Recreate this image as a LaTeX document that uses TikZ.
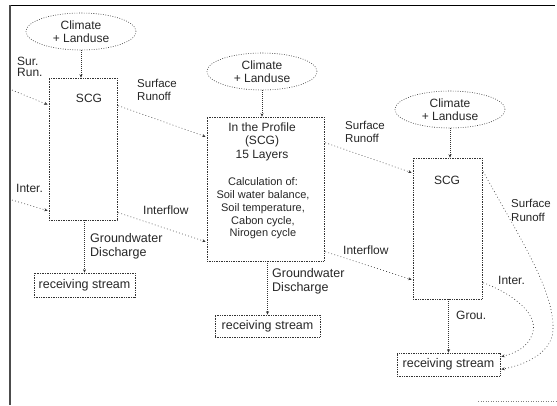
\documentclass[tikz,border=0pt]{standalone}
\usepackage{fontspec}
\setmainfont{Liberation Sans}
\usetikzlibrary{shapes.geometric,arrows.meta,calc}
\begin{document}
\begin{tikzpicture}[x=1pt,y=-1pt,
  every node/.style={text=black!85},
  txt/.style={font=\fontsize{12}{13}\selectfont, inner sep=0pt},
  lbl/.style={txt, anchor=west, align=left},
  cloud/.style={ellipse, draw=black!80, line width=0.6pt, dash pattern=on 0.8pt off 1.6pt,
     minimum width=110pt, minimum height=37pt, inner sep=0pt, align=center,
     font=\fontsize{12}{12.5}\selectfont},
  boxx/.style={rectangle, draw=black!80, line width=0.6pt, dash pattern=on 0.8pt off 0.9pt, inner sep=0pt},
  stream/.style={boxx, font=\fontsize{12.5}{13}\selectfont},
  flow/.style={draw=black!80, line width=0.6pt, dash pattern=on 0.8pt off 2.4pt,
     -{Stealth[length=3.5pt,width=3pt]}},
  vflow/.style={flow, dash pattern=on 0.8pt off 1.2pt}
]
\useasboundingbox (0,0) rectangle (557,405);
% frame
\draw[black, line width=0.9pt] (10,5) -- (555,5);
\draw[black!70, line width=1.3pt] (10,5) -- (10,405);
\draw[black!50, line width=0.6pt, dash pattern=on 1pt off 1.5pt] (478,401) -- (557,401);

% climate ellipses
\node[cloud] (e1) at (81,31.5) {Climate\\+ Landuse};
\node[cloud] (e2) at (262,71.5) {Climate\\+ Landuse};
\node[cloud] (e3) at (450,109.5) {Climate\\+ Landuse};

% boxes
\node[boxx, minimum width=68pt, minimum height=142pt] (b1) at (83,149) {};
\node[boxx, minimum width=117pt, minimum height=144pt] (b2) at (265.5,189) {};
\node[boxx, minimum width=69pt, minimum height=141pt] (b3) at (447.5,228.5) {};
\node[txt] (t1) at (89,98) {SCG};
\node[txt] (t3) at (447,180) {SCG};
\node[txt, align=center, font=\fontsize{12}{13.5}\selectfont] (t2a) at (262,141.5) {In the Profile\\(SCG)\\15 Layers};
\node[txt, align=center, font=\fontsize{11}{12.75}\selectfont] (t2b) at (263,208.5) {Calculation of:\\Soil water balance,\\Soil temperature,\\Cabon cycle,\\Nirogen cycle};

% receiving streams
\node[stream, minimum width=101pt, minimum height=24pt] (r1) at (84.5,285) {receiving stream};
\node[stream, minimum width=105pt, minimum height=22pt] (r2) at (267.5,326) {receiving stream};
\node[stream, minimum width=103pt, minimum height=23pt] (r3) at (448.5,364.5) {receiving stream};

% labels
\node[lbl, font=\fontsize{12}{11}\selectfont] (l1) at (17,67) {Sur.\\Run.};
\node[lbl] (l2) at (16,188) {Inter.};
\node[lbl, font=\fontsize{11.5}{13.5}\selectfont] (l3) at (137,90) {Surface\\Runoff};
\node[lbl] (l4) at (143,210) {Interflow};
\node[lbl, font=\fontsize{12.5}{14.5}\selectfont] (l5) at (90,246.5) {Groundwater\\Discharge};
\node[lbl, font=\fontsize{11.5}{12.5}\selectfont] (l6) at (345,132) {Surface\\Runoff};
\node[lbl] (l7) at (343,250) {Interflow};
\node[lbl, font=\fontsize{12.5}{13.5}\selectfont] (l8) at (272,281.5) {Groundwater\\Discharge};
\node[lbl, font=\fontsize{11.5}{14}\selectfont] (l9) at (511,210) {Surface\\Runoff};
\node[lbl] (l10) at (498,280) {Inter.};
\node[lbl] (l11) at (456,315) {Grou.};

% input coordinates at frame
\coordinate (in1) at (12,90);
\coordinate (in2) at (12,200);

% climate -> boxes
\draw[vflow] (e1.south) -- (e1.south |- b1.north);
\draw[vflow] (e2.south) -- (e2.south |- b2.north);
\draw[vflow] (e3.south) -- (e3.south |- b3.north);

% inputs
\draw[flow] (in1) -- ($(b1.north west)+(-1,27)$);
\draw[flow] (in2) -- ($(b1.north west)+(-1,133)$);

% box1 -> box2
\draw[flow] ($(b1.north east)+(1,28)$) -- ($(b2.north west)+(-1,20)$);
\draw[flow] ($(b1.north east)+(1,135)$) -- ($(b2.north west)+(-1,125)$);
% box2 -> box3
\draw[flow] ($(b2.north east)+(1,26)$) -- ($(b3.north west)+(-1,15)$);
\draw[flow] ($(b2.north east)+(1,135)$) -- ($(b3.north west)+(-1,122)$);

% groundwater
\draw[vflow] (r1.north |- b1.south) -- (r1.north);
\draw[vflow] (r2.north |- b2.south) -- (r2.north);
\draw[vflow] (r3.north |- b3.south) -- (r3.north);

% right curves
\draw[flow] ($(b3.north east)+(1,14)$) .. controls (515,230) and (555,290) .. (553,330)
   .. controls (552,355) and (520,366) .. ($(r3.south east)+(1,-7)$);
\draw[flow] ($(b3.north east)+(1,125)$) .. controls (515,295) and (540,315) .. (532,335)
   .. controls (527,348) and (515,353) .. ($(r3.north east)+(1,4)$);
\end{tikzpicture}
\end{document}
